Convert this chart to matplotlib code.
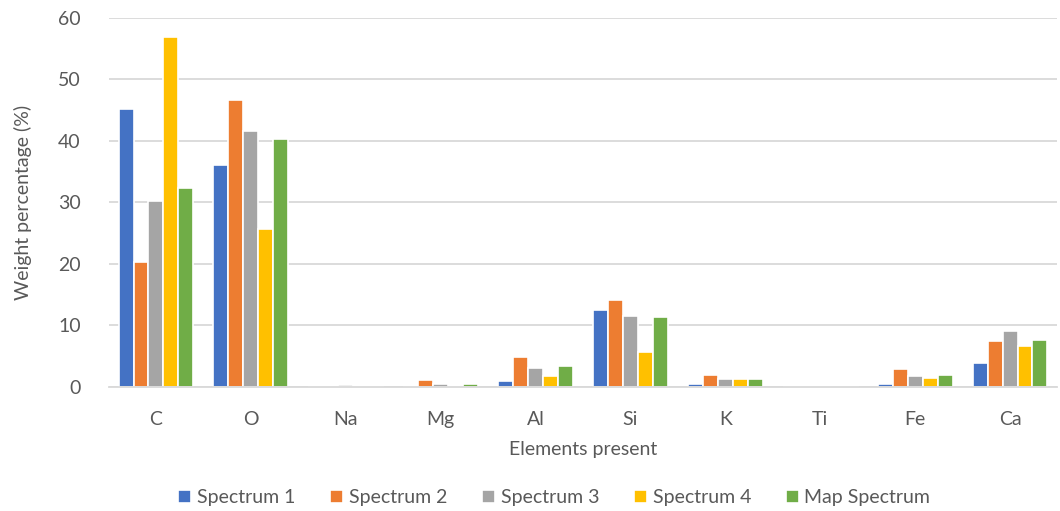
import matplotlib
matplotlib.use("Agg")
import matplotlib.pyplot as plt
import numpy as np

elements = ["C", "O", "Na", "Mg", "Al", "Si", "K", "Ti", "Fe", "Ca"]
series_names = ["Spectrum 1", "Spectrum 2", "Spectrum 3", "Spectrum 4", "Map Spectrum"]
spectrum1 = [45.2, 36.1, 0.0, 0.0, 1.0, 12.5, 0.5, 0.0, 0.5, 3.95]
spectrum2 = [20.3, 46.7, 0.0, 1.1, 4.9, 14.1, 1.9, 0.0, 3.0, 7.5]
spectrum3 = [30.2, 41.6, 0.3, 0.5, 3.1, 11.6, 1.25, 0.0, 1.8, 9.1]
spectrum4 = [56.9, 25.7, 0.0, 0.0, 1.8, 5.7, 1.25, 0.0, 1.5, 6.7]
map_spectrum = [32.3, 40.4, 0.15, 0.5, 3.4, 11.3, 1.3, 0.15, 1.9, 7.6]
colors = ["#4472C4", "#ED7D31", "#A5A5A5", "#FFC000", "#70AD47"]
yticks = [0, 10, 20, 30, 40, 50, 60]

plt.rcParams["font.family"] = ["Lato", "DejaVu Sans"]
text_color = "#595959"

fig = plt.figure(figsize=(10.6, 5.11), dpi=100)
ax = fig.add_axes([0.1024, 0.2427, 0.8952, 0.7221])

x = np.arange(len(elements))
slot = 0.158
all_series = [spectrum1, spectrum2, spectrum3, spectrum4, map_spectrum]
for i, (vals, name, col) in enumerate(zip(all_series, series_names, colors)):
    offs = (i - 2) * slot
    ax.bar(x + offs, vals, width=slot, color=col, edgecolor="white",
           linewidth=1.2, label=name, zorder=2)

ax.set_xlim(-0.5, len(elements) - 0.5)
ax.set_ylim(0, 60)
ax.set_yticks(yticks)
ax.set_xticks(x)
ax.set_xticklabels(elements)
ax.grid(axis="y", color="#D9D9D9", linewidth=1.3, zorder=0)
for side in ["top", "right", "left"]:
    ax.spines[side].set_visible(False)
ax.spines["bottom"].set_color("#D9D9D9")
ax.spines["bottom"].set_linewidth(1.3)
ax.spines["bottom"].set_zorder(2.5)
ax.tick_params(axis="both", length=0, labelsize=14, colors=text_color)
ax.tick_params(axis="y", pad=20)
ax.tick_params(axis="x", pad=17)

ax.set_ylabel("Weight percentage (%)", fontsize=14, color=text_color, labelpad=19)
ax.set_xlabel("Elements present", fontsize=14, color=text_color, labelpad=10)

leg = fig.legend(loc="lower center", bbox_to_anchor=(0.523, -0.025), ncol=5,
                 frameon=False, fontsize=14, handlelength=0.65, handleheight=0.65,
                 handletextpad=0.3, columnspacing=1.8, labelcolor=text_color)

fig.savefig("out.png", dpi=100, facecolor="white")
